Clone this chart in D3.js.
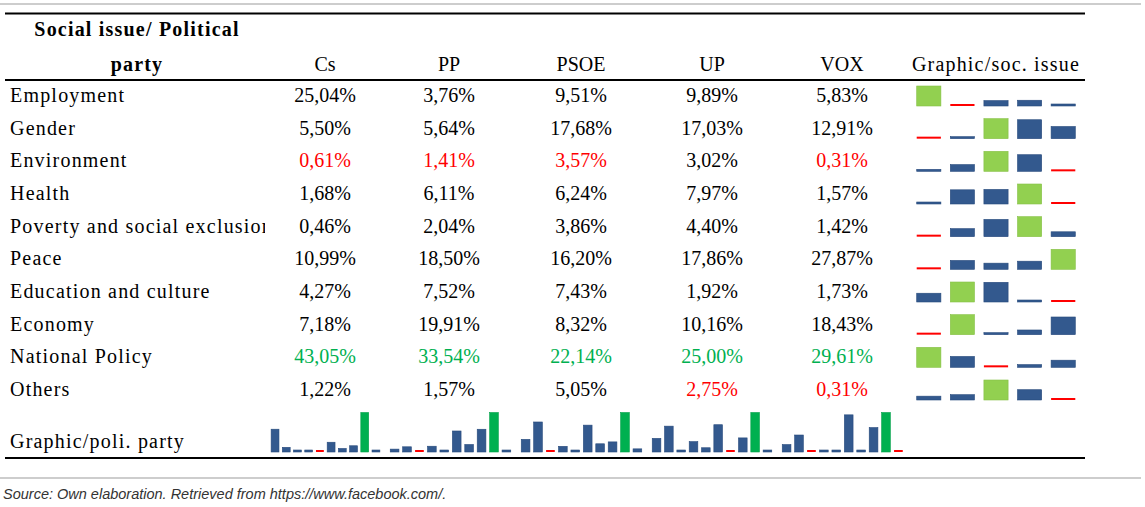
<!DOCTYPE html>
<meta charset="utf-8">
<script src="https://d3js.org/d3.v7.min.js"></script>
<style>
  body { margin: 0; background: #fff; }
  svg text { font-family: "Liberation Serif", "Times New Roman", serif; font-size: 20px; fill: #000; }
  .head { font-weight: bold; letter-spacing: 1.2px; }
  .lbl { letter-spacing: 1.2px; }
  .src { font-family: "Liberation Sans", Arial, sans-serif; font-style: italic; font-size: 14.5px; fill: #333; letter-spacing: 0; }
</style>
<body>
<svg id="vis" width="1145" height="507"></svg>
<script>
var parties = ["Cs", "PP", "PSOE", "UP", "VOX"];
var issues = ["Employment", "Gender", "Environment", "Health", "Poverty and social exclusion",
  "Peace", "Education and culture", "Economy", "National Policy", "Others"];
var cs   = [25.04, 5.50, 0.61, 1.68, 0.46, 10.99, 4.27, 7.18, 43.05, 1.22];
var pp   = [3.76, 5.64, 1.41, 6.11, 2.04, 18.50, 7.52, 19.91, 33.54, 1.57];
var psoe = [9.51, 17.68, 3.57, 6.24, 3.86, 16.20, 7.43, 8.32, 22.14, 5.05];
var up   = [9.89, 17.03, 3.02, 7.97, 4.40, 17.86, 1.92, 10.16, 25.00, 2.75];
var vox  = [5.83, 12.91, 0.31, 1.57, 1.42, 27.87, 1.73, 18.43, 29.61, 0.31];
// cells printed in red  [issue, party]
var redCells = [[2, 0], [2, 1], [2, 2], [2, 4], [9, 3], [9, 4]];
// row printed in green
var greenIssue = "National Policy";

var cols = [cs, pp, psoe, up, vox];
var fmt = function(v) { return v.toFixed(2).replace(".", ",") + "%"; };

var BLUE = "#33598e", RED = "#ff0000", LGREEN = "#92d050", DGREEN = "#00b050";

var svg = d3.select("#vis");

// scales
var y = d3.scaleLinear().domain([0, issues.length - 1]).range([102, 396]);
var xCol = d3.scaleOrdinal().domain(parties).range([325, 449, 581, 712, 842]);
var xRow = d3.scaleBand().domain(parties).range([912, 1080]).paddingInner(0.28).paddingOuter(0.14);
var groupRange = { Cs: [270, 381], PP: [389, 512], PSOE: [520, 643], UP: [651, 773], VOX: [781, 904] };

// rules
function rule(yy, x0, x1, color, w) {
  svg.append("line").attr("x1", x0).attr("x2", x1).attr("y1", yy).attr("y2", yy)
    .attr("stroke", color).attr("stroke-width", w);
}
rule(4, 0, 1141, "#bdbdbd", 1.5);
rule(13.5, 5, 1085, "#000", 2);
rule(80, 5, 1085, "#000", 2);
rule(458, 5, 1085, "#000", 2);
rule(478, 0, 1141, "#bdbdbd", 1.5);

// header
svg.append("text").attr("class", "head").attr("x", 137).attr("y", 36)
  .attr("text-anchor", "middle").text("Social issue/ Political");
svg.append("text").attr("class", "head").attr("x", 137).attr("y", 71)
  .attr("text-anchor", "middle").text("party");
svg.selectAll(".ph").data(parties).enter().append("text")
  .attr("x", function(d) { return xCol(d); }).attr("y", 71)
  .attr("text-anchor", "middle").text(function(d) { return d; });
svg.append("text").attr("class", "lbl").attr("x", 996).attr("y", 71)
  .attr("text-anchor", "middle").text("Graphic/soc. issue");

// row labels (first column clips long label)
svg.append("clipPath").attr("id", "c1").append("rect")
  .attr("x", 0).attr("y", 80).attr("width", 265).attr("height", 380);
svg.append("g").attr("clip-path", "url(#c1)")
  .selectAll("text").data(issues).enter().append("text")
  .attr("class", "lbl")
  .attr("x", 10).attr("y", function(d, i) { return y(i); })
  .text(function(d) { return d; });

// values
function isRed(i, j) {
  return redCells.some(function(c) { return c[0] === i && c[1] === j; });
}
parties.forEach(function(p, j) {
  svg.append("g").selectAll("text").data(cols[j]).enter().append("text")
    .attr("x", xCol(p)).attr("y", function(d, i) { return y(i); })
    .attr("text-anchor", "middle")
    .style("fill", function(d, i) {
      if (issues[i] === greenIssue) return DGREEN;
      return isRed(i, j) ? RED : "#000";
    })
    .text(fmt);
});

// row sparklines (per social issue)
issues.forEach(function(iss, i) {
  var row = cols.map(function(c) { return c[i]; });
  var mn = d3.min(row), mx = d3.max(row);
  var h = d3.scaleLinear().domain([mn, mx]).range([0, 20]);
  var base = y(i) + 4;
  svg.append("g").selectAll("rect").data(row).enter().append("rect")
    .attr("x", function(d, j) { return xRow(parties[j]); })
    .attr("width", xRow.bandwidth())
    .attr("y", function(d) { return base - Math.max(2, h(d)); })
    .attr("height", function(d) { return Math.max(2, h(d)); })
    .attr("fill", function(d) { return d === mx ? LGREEN : d === mn ? RED : BLUE; })
    .attr("stroke", function(d) { return d === mn ? "none" : d === mx ? "#86c046" : "#274a7c"; })
    .attr("stroke-width", 0.6);
});

// column sparklines (per party)
svg.append("text").attr("class", "lbl").attr("x", 10).attr("y", 448).text("Graphic/poli. party");
parties.forEach(function(p, j) {
  var col = cols[j];
  var mn = d3.min(col), mx = d3.max(col);
  var xb = d3.scaleBand().domain(issues).range(groupRange[p]).paddingInner(0.3).paddingOuter(0.1);
  var h = d3.scaleLinear().domain([mn, mx]).range([0, 39.5]);
  var base = 452;
  svg.append("g").selectAll("rect").data(col).enter().append("rect")
    .attr("x", function(d, i) { return xb(issues[i]); })
    .attr("width", xb.bandwidth())
    .attr("y", function(d) { return base - Math.max(2, h(d)); })
    .attr("height", function(d) { return Math.max(2, h(d)); })
    .attr("fill", function(d) { return d === mx ? DGREEN : d === mn ? RED : BLUE; })
    .attr("stroke", function(d) { return d === mn ? "none" : d === mx ? "#00a048" : "#274a7c"; })
    .attr("stroke-width", 0.6);
});

// source
svg.append("text").attr("class", "src").attr("x", 3).attr("y", 499)
  .text("Source: Own elaboration. Retrieved from https://www.facebook.com/.");
</script>
</body>
